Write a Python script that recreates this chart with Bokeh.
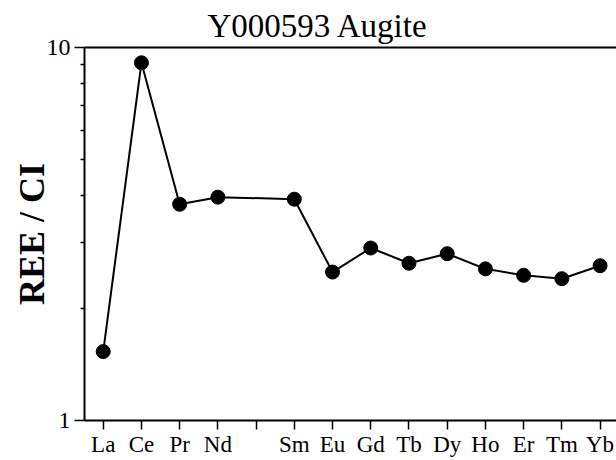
from bokeh.plotting import figure
from bokeh.models import Range1d, FixedTicker, LinearAxis
from bokeh.embed import file_html
from bokeh.resources import INLINE

# REE sequence (Pm has no measurement; Lu is beyond the visible area)
elements = ["La", "Ce", "Pr", "Nd", "Pm", "Sm", "Eu", "Gd", "Tb", "Dy", "Ho", "Er", "Tm", "Yb"]
measured = ["La", "Ce", "Pr", "Nd", "Sm", "Eu", "Gd", "Tb", "Dy", "Ho", "Er", "Tm", "Yb"]
ree_ci = [1.53, 9.10, 3.80, 3.97, 3.92, 2.50, 2.90, 2.64, 2.80, 2.55, 2.45, 2.40, 2.60]
tick_labels = ["La", "Ce", "Pr", "Nd", "", "Sm", "Eu", "Gd", "Tb", "Dy", "Ho", "Er", "Tm", "Yb"]
y_major = [1, 10]
y_minor = [2, 3, 4, 5, 6, 7, 8, 9]
title_text = "Y000593 Augite"

xpos = [elements.index(e) for e in measured]

SERIF = "Liberation Serif"

p = figure(width=616, height=460, output_backend="svg", toolbar_location=None,
           y_axis_type="log", x_range=Range1d(-0.49, 13.43), y_range=Range1d(1, 10),
           min_border_left=84, min_border_right=0, min_border_top=47, min_border_bottom=40,
           title=title_text)

p.outline_line_color = None
p.grid.visible = False
p.background_fill_color = "white"
p.border_fill_color = "white"

p.title.text_font = SERIF
p.title.text_font_size = "33px"
p.title.text_font_style = "normal"
p.title.text_color = "black"
p.title.align = "left"
p.title.offset = 123
p.title.standoff = 7

# x axis
xa = p.xaxis[0]
xa.ticker = FixedTicker(ticks=list(range(len(elements))))
xa.major_label_overrides = {i: t for i, t in enumerate(tick_labels)}
xa.major_label_text_font = SERIF
xa.major_label_text_font_size = "23px"
xa.major_label_text_color = "black"
xa.axis_line_width = 2
xa.axis_line_color = "black"
xa.major_tick_line_width = 1.5
xa.major_tick_in = 0
xa.major_tick_out = 9
xa.minor_tick_line_color = None
xa.major_label_standoff = 2

# y axis
ya = p.yaxis[0]
ya.ticker = FixedTicker(ticks=y_major, minor_ticks=y_minor)
ya.major_label_overrides = {1: "1", 10: "10"}
ya.major_label_text_font = SERIF
ya.major_label_text_font_size = "24px"
ya.major_label_text_color = "black"
ya.axis_line_width = 2
ya.axis_line_color = "black"
ya.major_tick_line_width = 1.5
ya.major_tick_in = 0
ya.major_tick_out = 10
ya.minor_tick_line_width = 1.5
ya.minor_tick_in = 0
ya.minor_tick_out = 4
ya.major_label_standoff = 4
ya.axis_label = "REE / CI"
ya.axis_label_text_font = SERIF
ya.axis_label_text_font_size = "36px"
ya.axis_label_text_font_style = "bold"
ya.axis_label_text_color = "black"
ya.axis_label_standoff = -8

# top frame edge
top = LinearAxis(ticker=FixedTicker(ticks=[]))
top.axis_line_width = 2
top.axis_line_color = "black"
top.major_tick_line_color = None
top.minor_tick_line_color = None
p.add_layout(top, "above")

p.line(xpos, ree_ci, line_color="black", line_width=2)
p.scatter(xpos, ree_ci, size=14, fill_color="black", line_color="black")

open("out.html", "w").write(file_html(p, INLINE))
